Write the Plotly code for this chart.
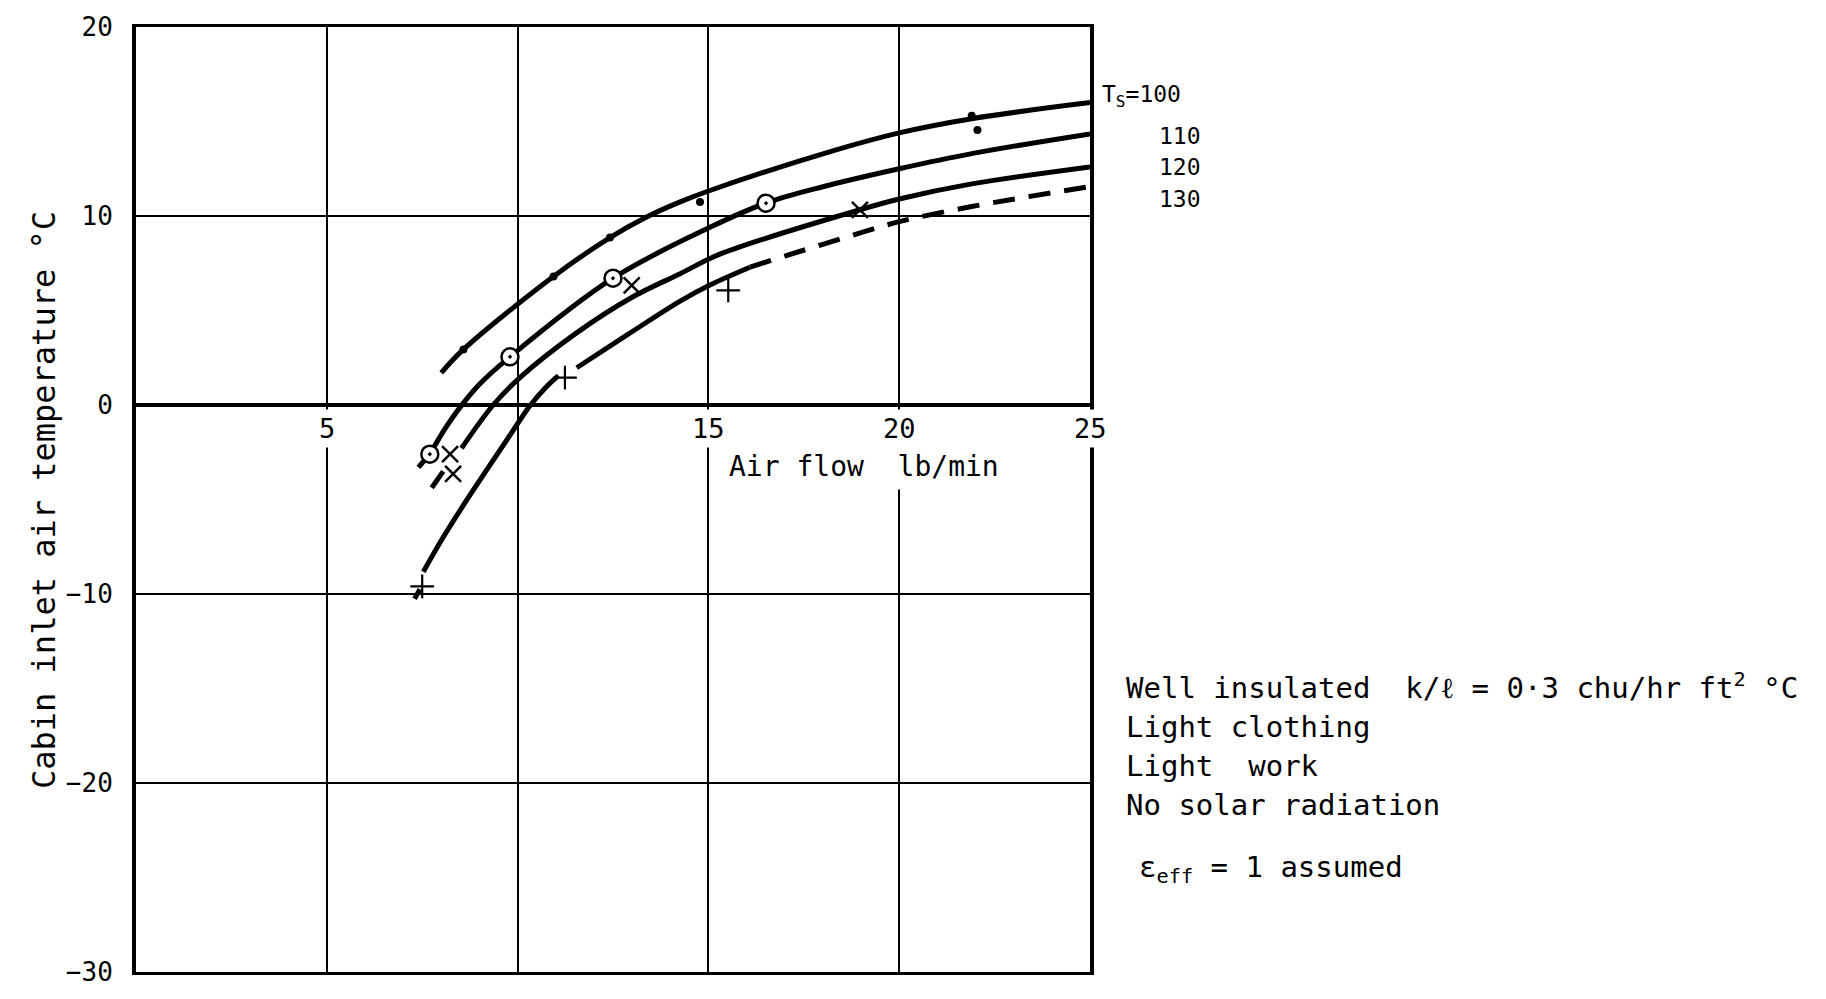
import plotly.graph_objects as go

# ---------------- data ----------------
# Ts = 100 : solid curve with dot test points
x100 = [8.0, 8.58, 10.94, 12.42, 13.38, 14.26, 15.04, 18.26, 20.0, 21.9, 25.0]
y100 = [1.7, 2.94, 6.8, 8.86, 9.95, 10.75, 11.35, 13.45, 14.4, 15.15, 16.0]
dot100_x = [8.58, 10.94, 12.42, 14.78, 21.9, 22.05]
dot100_y = [2.94, 6.8, 8.86, 10.74, 15.3, 14.55]

# Ts = 110 : solid curve with ringed test points
x110 = [7.4, 7.7, 8.1, 8.5, 9.0, 9.8, 12.5, 15.04, 16.5, 18.0, 20.0, 21.9, 25.0]
y110 = [-3.3, -2.55, -1.25, -0.1, 1.1, 2.55, 6.71, 9.4, 10.68, 11.55, 12.5, 13.3, 14.34]
ring110_x = [7.7, 9.8, 12.5, 16.51]
ring110_y = [-2.6, 2.55, 6.71, 10.68]

# Ts = 120 : solid curve with x test points
x120 = [8.53, 9.36, 10.06, 11.5, 13.0, 14.26, 15.3, 18.97, 20.0, 21.9, 25.0]
y120 = [-2.29, 0.0, 1.45, 3.75, 5.7, 6.95, 7.98, 10.33, 10.9, 11.7, 12.6]
cross120_x = [8.23, 8.31, 12.99, 18.97]
cross120_y = [-2.6, -3.65, 6.33, 10.33]
stub120_x = [7.75, 8.05]
stub120_y = [-4.38, -3.51]

# Ts = 130 : solid pieces, then a dashed extrapolation, with + test points
x130_a = [7.3, 7.44]
y130_a = [-10.25, -9.75]
x130_b = [7.53, 8.05, 8.66, 9.27, 9.8, 10.3, 10.7, 11.07]
y130_b = [-8.82, -7.0, -5.05, -3.2, -1.6, -0.1, 0.85, 1.55]
x130_c = [11.55, 12.9, 14.26, 15.04, 16.09]
y130_c = [1.97, 3.75, 5.5, 6.35, 7.29]
x130_d = [16.09, 17.0, 18.0, 19.0, 20.0, 21.9, 25.0]
y130_d = [7.29, 7.88, 8.5, 9.12, 9.7, 10.5, 11.56]
plus130_x = [7.5, 11.24, 15.52]
plus130_y = [-9.6, 1.45, 6.07]

# axis ticks
ytick_vals = [20, 10, 0, -10, -20, -30]
ytick_text = ["20", "10", "0", "\u221210", "\u221220", "\u221230"]
xtick_vals = [5, 15, 20, 25]
xtick_text = ["5", "15", "20", "25"]

series_labels = ["100", "110", "120", "130"]

# ---------------- figure geometry ----------------
W, H = 1826, 999
L, R, T, B = 136, 1090, 27, 984
FONT = "DejaVu Sans Mono"


def px(xp):
    return (xp - L) / (R - L)


def py(yp):
    return (B - yp) / (B - T)


fig = go.Figure()

curve = dict(color="black", width=5, shape="spline", smoothing=1.0)


def add_line(xs, ys, dash="solid"):
    fig.add_trace(go.Scatter(x=xs, y=ys, mode="lines",
                             line=dict(curve, dash=dash),
                             hoverinfo="skip", showlegend=False))


add_line(x100, y100)
add_line(x110, y110)
add_line(x120, y120)
add_line(stub120_x, stub120_y)
add_line(x130_a, y130_a)
add_line(x130_b, y130_b)
add_line(x130_c, y130_c)
add_line(x130_d, y130_d, dash="22px,14px")

fig.add_trace(go.Scatter(x=dot100_x, y=dot100_y, mode="markers",
                         marker=dict(symbol="circle", size=8, color="black"),
                         showlegend=False))
fig.add_trace(go.Scatter(x=ring110_x, y=ring110_y, mode="markers",
                         marker=dict(symbol="circle-dot", size=17, color="white",
                                     line=dict(color="black", width=2.5)),
                         showlegend=False))
fig.add_trace(go.Scatter(x=cross120_x, y=cross120_y, mode="markers",
                         marker=dict(symbol="x-thin", size=16, color="black",
                                     line=dict(color="black", width=2.5)),
                         showlegend=False))
fig.add_trace(go.Scatter(x=plus130_x, y=plus130_y, mode="markers",
                         marker=dict(symbol="cross-thin", size=17, color="black",
                                     line=dict(color="black", width=2.2)),
                         showlegend=False))


def note(text, xp, yp, size, xanchor="left", **kw):
    return dict(x=px(xp), y=py(yp), xref="paper", yref="paper",
                xanchor=xanchor, yanchor="middle", text=text, showarrow=False,
                font=dict(family=FONT, size=size, color="black"), **kw)


ann = []
# x tick labels sit just under the zero line and blank out the grid behind them
for v, t in zip(xtick_vals, xtick_text):
    ann.append(dict(x=v, y=0, xref="x", yref="y", text=t, showarrow=False,
                    xanchor="center", yanchor="middle", yshift=-23,
                    font=dict(family=FONT, size=27, color="black"),
                    bgcolor="white", borderpad=3))

ann.append(dict(x=15.36, y=-3.27, xref="x", yref="y", xanchor="left",
                yanchor="middle", text="Air flow  lb/min", showarrow=False,
                font=dict(family=FONT, size=28, color="black"),
                bgcolor="white", borderpad=6))

ann.append(note("Cabin inlet air temperature \u00b0C", 44, 506, 32,
                xanchor="center", textangle=-90))

# curve labels
ann.append(note("T<sub>S</sub>=" + series_labels[0], 1100, 97, 23))
for lab, yp in zip(series_labels[1:], [137, 169, 201]):
    ann.append(note(lab, 1180, yp, 23, xanchor="center"))

notes = [
    ("Well insulated  k/\u2113 = 0\u00b73 chu/hr ft<sup>2</sup> \u00b0C", 1124, 694),
    ("Light clothing", 1124, 736),
    ("Light  work", 1124, 775),
    ("No solar radiation", 1124, 815),
    ("\u03b5<sub>eff</sub> = 1 assumed", 1137, 880),
]
for txt, xp, yp in notes:
    ann.append(note(txt, xp, yp, 29))

fig.update_layout(
    width=W, height=H,
    margin=dict(l=L, r=W - R, t=T, b=H - B, pad=0),
    paper_bgcolor="white", plot_bgcolor="white",
    showlegend=False,
    annotations=ann,
    xaxis=dict(range=[0, 25], dtick=5, tick0=0, showgrid=True,
               gridcolor="black", gridwidth=2, showticklabels=False,
               ticks="", zeroline=False, showline=True, linecolor="black",
               linewidth=3, mirror=True, fixedrange=True),
    yaxis=dict(range=[-30, 20], tickvals=ytick_vals, ticktext=ytick_text,
               showgrid=True, gridcolor="black", gridwidth=2, ticks="",
               ticklabelstandoff=14, ticklabeloverflow="allow",
               tickfont=dict(family=FONT, size=26, color="black"),
               zeroline=True, zerolinecolor="black", zerolinewidth=4,
               showline=True, linecolor="black", linewidth=4, mirror=True,
               fixedrange=True),
)

fig.write_html("out.html")
